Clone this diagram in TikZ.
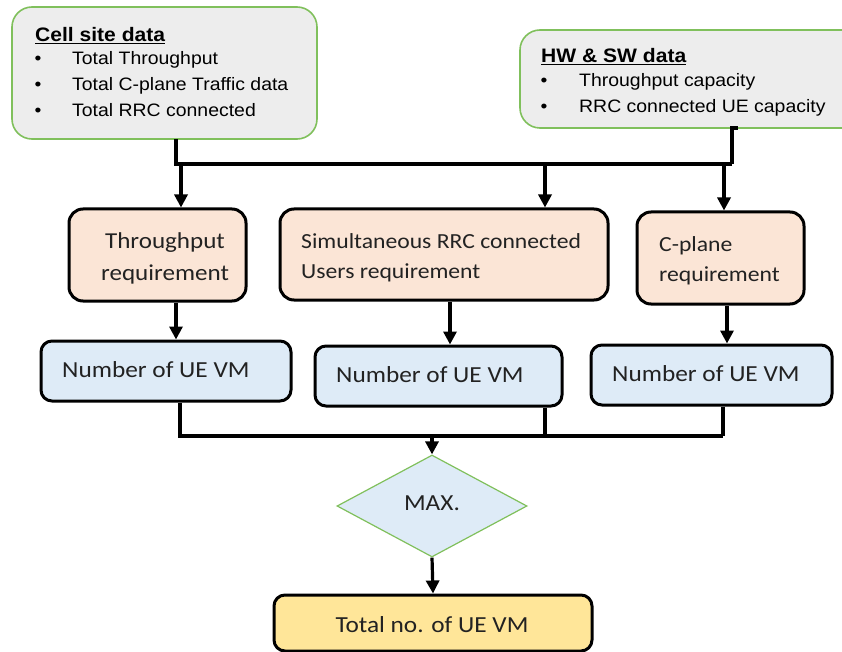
\documentclass[tikz,border=0pt]{standalone}
\usepackage{fontspec}
\usetikzlibrary{shapes.geometric,arrows.meta,calc}
\newfontfamily\arialf{Liberation Sans}[FakeStretch=1.08]
\newfontfamily\calf{Carlito}[FakeStretch=1.1]
\definecolor{boxgrey}{HTML}{EDEDED}
\definecolor{leafgreen}{RGB}{128,192,92}
\definecolor{peach}{HTML}{FBE5D6}
\definecolor{paleblue}{HTML}{DEEBF7}
\definecolor{gold}{HTML}{FFE699}
\definecolor{ink}{HTML}{222222}
\tikzset{
  databox/.style={draw=leafgreen, line width=1.6pt, fill=boxgrey, rounded corners=20pt, inner sep=0pt},
  reqbox/.style={draw=black, line width=3pt, fill=peach, rounded corners=14pt, inner sep=0pt},
  numbox/.style={draw=black, line width=3pt, fill=paleblue, rounded corners=11pt, inner sep=0pt},
  totbox/.style={draw=black, line width=3pt, fill=gold, rounded corners=11pt, inner sep=0pt},
  maxdia/.style={diamond, draw=leafgreen, line width=1.2pt, fill=paleblue, inner sep=0pt, aspect=1.86},
  atxt/.style={inner sep=0pt, text=black, font=\arialf\fontsize{18pt}{26pt}\selectfont},
  ahead/.style={atxt, font=\arialf\bfseries\fontsize{19.5pt}{26pt}\selectfont},
  ctxt/.style={inner sep=0pt, text=ink, font=\calf\fontsize{23pt}{30pt}\selectfont},
  rtxt/.style={inner sep=0pt, text=ink, font=\calf\fontsize{21.5pt}{31pt}\selectfont},
  link/.style={draw=black, line width=3.2pt},
  arr/.style={link, -{Triangle[length=13pt,width=13pt]}},
}
\begin{document}
\begin{tikzpicture}[x=1pt,y=-1pt]
\useasboundingbox (0,0) rectangle (842,652);
\fill[white] (0,0) rectangle (842,652);

% input data boxes
\node[databox, minimum width=305pt, minimum height=132pt] (cell) at (164.5,73) {};
\node[ahead, anchor=base west] (cellh) at (35,42) {\underline{Cell site data}};
\node[atxt, anchor=base] (cb1) at (38,65) {•};
\node[atxt, anchor=base west] (ct1) at (72,65) {Total Throughput};
\node[atxt, anchor=base] (cb2) at (38,91) {•};
\node[atxt, anchor=base west] (ct2) at (72,91) {Total C-plane Traffic data};
\node[atxt, anchor=base] (cb3) at (38,117) {•};
\node[atxt, anchor=base west] (ct3) at (72,117) {Total RRC connected};

\node[databox, minimum width=350pt, minimum height=98pt] (hw) at (695,79) {};
\node[ahead, anchor=base west] (hwh) at (541,63) {\underline{HW \& SW data}};
\node[atxt, anchor=base] (hb1) at (544,87) {•};
\node[atxt, anchor=base west] (ht1) at (579,87) {Throughput capacity};
\node[atxt, anchor=base] (hb2) at (544,113) {•};
\node[atxt, anchor=base west] (ht2) at (579,113) {RRC connected UE capacity};

% requirement boxes
\node[reqbox, minimum width=177pt, minimum height=92pt] (thr) at (157.5,255) {};
\node[rtxt, align=center, font=\calf\fontsize{22.8pt}{32pt}\selectfont] (thrt) at (165,258) {Throughput\\requirement};
\node[reqbox, minimum width=328pt, minimum height=91pt] (sim) at (444,254.5) {};
\node[rtxt, anchor=base west] (simt1) at (301,248) {Simultaneous RRC connected};
\node[rtxt, anchor=base west] (simt2) at (301,278) {Users requirement};
\node[reqbox, minimum width=167pt, minimum height=92pt] (cpl) at (720.5,258) {};
\node[rtxt, anchor=base west] (cplt1) at (659,251) {C-plane};
\node[rtxt, anchor=base west] (cplt2) at (659,281) {requirement};

% VM count boxes
\node[numbox, minimum width=250pt, minimum height=60pt] (n1) at (166,371) {};
\node[ctxt, anchor=base west] (n1t) at (62,377) {Number of UE VM};
\node[numbox, minimum width=247pt, minimum height=60pt] (n2) at (438.5,376) {};
\node[ctxt, anchor=base west] (n2t) at (336,382) {Number of UE VM};
\node[numbox, minimum width=241pt, minimum height=60pt] (n3) at (711.5,375) {};
\node[ctxt, anchor=base west] (n3t) at (612,381) {Number of UE VM};

% decision and result
\node[maxdia, minimum width=190pt, minimum height=102pt] (mx) at (432,506) {};
\node[ctxt, anchor=base] (mxt) at (432,510) {MAX.};
\node[totbox, minimum width=318pt, minimum height=56pt] (tot) at (433,623) {};
\node[ctxt, anchor=base] (tott) at (432,632) {Total no. of UE VM};

% top bus
\coordinate (cs) at (176,139);
\coordinate (busL) at (176,164);
\coordinate (busR) at (732,164);
\coordinate (hs) at (738,128);
\draw[link] (cs) -- (busL) -- (busR);
\draw[link] (hs) -- (732,128) -- (busR);
\coordinate (a1) at (181,164);
\coordinate (a2) at (545,164);
\coordinate (a3) at (724,164);
\draw[arr] (a1) -- (a1 |- thr.north);
\draw[arr] (a2) -- (a2 |- sim.north);
\draw[arr] (a3) -- (a3 |- cpl.north);

% requirement to VM count
\coordinate (b1) at (176,301);
\coordinate (b2) at (450,300);
\coordinate (b3) at (727,304);
\draw[arr] (b1 |- thr.south) -- (b1 |- n1.north);
\draw[arr] (b2 |- sim.south) -- (b2 |- n2.north);
\draw[arr] (b3 |- cpl.south) -- (b3 |- n3.north);

% bottom bus
\coordinate (c1) at (180,436);
\coordinate (c2) at (545,436);
\coordinate (c3) at (723,436);
\draw[link] (c1 |- n1.south) -- (c1) -- (c3);
\draw[link] (c2 |- n2.south) -- (c2);
\draw[link] (c3 |- n3.south) -- (c3);
\coordinate (cm) at (432,436);
\draw[arr] (cm) -- (mx.north);
\draw[arr] (mx.south) -- (tot.north);
\end{tikzpicture}
\end{document}
